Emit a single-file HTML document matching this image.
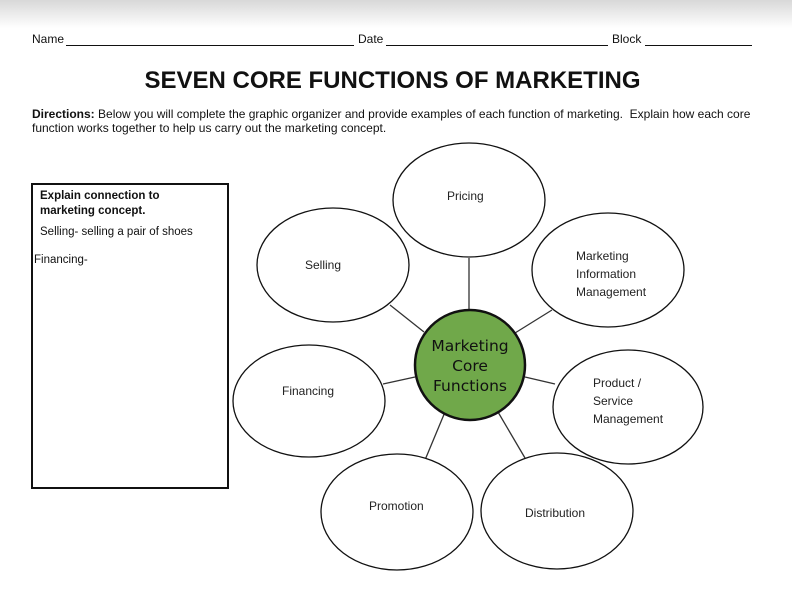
<!DOCTYPE html>
<html><head><style>
body{margin:0;width:792px;height:603px;background:#fff;position:relative;font-family:"Liberation Sans",sans-serif;overflow:hidden}
.t{position:absolute;white-space:nowrap;color:#111}
</style></head><body>
<div style="position:absolute;left:0;top:0;width:792px;height:28px;background:linear-gradient(#d8d8d8,#fff)"></div>
<div class="t" style="left:32px;top:32px;font-size:12px">Name</div>
<div style="position:absolute;left:66px;top:45px;width:288px;border-top:1px solid #111"></div>
<div class="t" style="left:358px;top:32px;font-size:12px">Date</div>
<div style="position:absolute;left:386px;top:45px;width:222px;border-top:1px solid #111"></div>
<div class="t" style="left:612px;top:32px;font-size:12px">Block</div>
<div style="position:absolute;left:645px;top:45px;width:107px;border-top:1px solid #111"></div>
<div class="t" style="left:0;width:785px;text-align:center;top:67px;font-size:24px;font-weight:bold">SEVEN CORE FUNCTIONS OF MARKETING</div>
<div class="t" style="left:32px;top:107px;font-size:12px;line-height:14px"><b>Directions:</b> Below you will complete the graphic organizer and provide examples of each function of marketing.&nbsp; Explain how each core<br>function works together to help us carry out the marketing concept.</div>
<div style="position:absolute;left:31px;top:183px;width:194px;height:302px;border:2px solid #111"></div>
<div class="t" style="left:40px;top:189px;font-size:11.5px;font-weight:bold;line-height:15px">Explain connection to<br>marketing concept.</div>
<div class="t" style="left:40px;top:226px;font-size:11.5px">Selling- selling a pair of shoes</div>
<div class="t" style="left:34px;top:254px;font-size:11.5px">Financing-</div>
<svg width="792" height="603" style="position:absolute;left:0;top:0" font-family="Liberation Sans" font-size="12" fill="#222">
<g stroke="#333" stroke-width="1.3" fill="none">
<line x1="469" y1="258" x2="469" y2="310"/>
<line x1="390" y1="305" x2="424" y2="332"/>
<line x1="552" y1="310" x2="515" y2="333"/>
<line x1="383" y1="384" x2="415" y2="377"/>
<line x1="555" y1="384" x2="525" y2="377"/>
<line x1="425" y1="460" x2="445" y2="412"/>
<line x1="525" y1="458" x2="498" y2="412"/>
</g>
<g stroke="#111" stroke-width="1.3" fill="#fff">
<ellipse cx="469" cy="200" rx="76" ry="57"/>
<ellipse cx="333" cy="265" rx="76" ry="57"/>
<ellipse cx="608" cy="270" rx="76" ry="57"/>
<ellipse cx="309" cy="401" rx="76" ry="56"/>
<ellipse cx="628" cy="407" rx="75" ry="57"/>
<ellipse cx="397" cy="512" rx="76" ry="58"/>
<ellipse cx="557" cy="511" rx="76" ry="58"/>
</g>
<circle cx="470" cy="365" r="55" fill="#70a84a" stroke="#111" stroke-width="2.5"/>
<g font-family="DejaVu Sans" font-size="15.5" fill="#111" text-anchor="middle">
<text x="470" y="351">Marketing</text><text x="470" y="371">Core</text><text x="470" y="391">Functions</text>
</g>
<text x="447" y="200">Pricing</text>
<text x="305" y="269">Selling</text>
<text x="576" y="260">Marketing</text>
<text x="576" y="278">Information</text>
<text x="576" y="296">Management</text>
<text x="282" y="395">Financing</text>
<text x="593" y="387">Product /</text>
<text x="593" y="405">Service</text>
<text x="593" y="423">Management</text>
<text x="369" y="510">Promotion</text>
<text x="525" y="517">Distribution</text>
</svg>
</body></html>
